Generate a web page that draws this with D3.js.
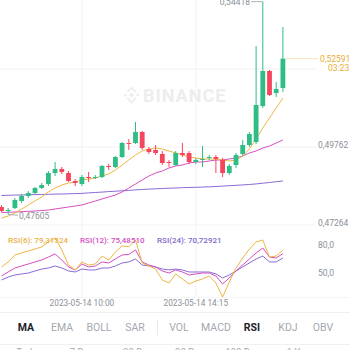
<!DOCTYPE html>
<html>
<head>
<meta charset="utf-8">
<script src="https://cdn.jsdelivr.net/npm/d3@7"></script>
<style>
  html, body { margin: 0; padding: 0; background: #fff; overflow: hidden; }
  svg { display: block; font-family: Roboto, "Noto Sans", sans-serif; }
</style>
</head>
<body>
<svg id="chart" width="350" height="350"></svg>
<script>
// 15-minute candles, 2023-05-14
const times = ["07:00","07:15","07:30","07:45","08:00","08:15","08:30","08:45","09:00","09:15",
  "09:30","09:45","10:00","10:15","10:30","10:45","11:00","11:15","11:30","11:45",
  "12:00","12:15","12:30","12:45","13:00","13:15","13:30","13:45","14:00","14:15",
  "14:30","14:45","15:00","15:15","15:30","15:45","16:00","16:15","16:30","16:45",
  "17:00","17:15","17:30"];

const open = [0.47840,0.47712,0.47808,0.48033,0.48193,0.48289,0.48449,0.48577,0.48929,0.49058,
  0.48929,0.48673,0.48577,0.48801,0.48769,0.48801,0.49154,0.49122,0.49442,0.49890,
  0.49890,0.50242,0.49698,0.49666,0.49538,0.49282,0.49186,0.49570,0.49570,0.49282,
  0.49346,0.49410,0.49442,0.49346,0.48929,0.49186,0.49538,0.49826,0.49922,0.51075,
  0.52196,0.51491,0.51652];
const high = [0.47905,0.47808,0.48129,0.48257,0.48353,0.48481,0.48609,0.48994,0.49282,0.49122,
  0.48994,0.48737,0.48865,0.48961,0.48865,0.49186,0.49218,0.49474,0.49922,0.50018,
  0.50563,0.50274,0.49762,0.49826,0.49634,0.49346,0.49634,0.49890,0.49634,0.49410,
  0.49794,0.49506,0.49506,0.49410,0.49218,0.49570,0.49986,0.50242,0.52997,0.54418,
  0.52228,0.51844,0.53605];
const low = [0.47680,0.47605,0.47776,0.47969,0.48129,0.48257,0.48417,0.48513,0.48833,0.48897,
  0.48641,0.48513,0.48513,0.48641,0.48737,0.48769,0.49026,0.49090,0.49410,0.49666,
  0.49858,0.49666,0.49538,0.49506,0.49186,0.49122,0.49154,0.49442,0.49218,0.49218,
  0.49122,0.49346,0.48929,0.48801,0.48865,0.49090,0.49474,0.49762,0.49858,0.51011,
  0.51395,0.51363,0.51523];
const close = [0.47712,0.47744,0.48065,0.48193,0.48289,0.48449,0.48545,0.48929,0.49058,0.48961,
  0.48673,0.48609,0.48801,0.48769,0.48801,0.49154,0.49122,0.49442,0.49890,0.49858,
  0.50242,0.49730,0.49602,0.49570,0.49250,0.49250,0.49570,0.49506,0.49282,0.49346,
  0.49378,0.49442,0.49378,0.48929,0.49154,0.49506,0.49826,0.50178,0.51107,0.52196,
  0.51427,0.51620,0.52591];

// moving averages
const ma7 = [0.47488,0.47552,0.47648,0.47776,0.47905,0.48033,0.48161,0.48321,0.48449,0.48545,
  0.48609,0.48641,0.48705,0.48737,0.48769,0.48833,0.48897,0.49026,0.49186,0.49346,
  0.49506,0.49634,0.49698,0.49730,0.49698,0.49634,0.49570,0.49506,0.49442,0.49410,
  0.49378,0.49378,0.49378,0.49346,0.49314,0.49346,0.49474,0.49698,0.50018,0.50371,
  0.50691,0.51011,0.51331];
const ma25 = [0.47664,0.47671,0.47680,0.47690,0.47703,0.47712,0.47728,0.47744,0.47776,0.47808,
  0.47840,0.47872,0.47905,0.47969,0.48033,0.48097,0.48161,0.48225,0.48321,0.48449,
  0.48577,0.48705,0.48833,0.48929,0.48994,0.49090,0.49154,0.49186,0.49250,0.49282,
  0.49282,0.49314,0.49346,0.49346,0.49378,0.49410,0.49474,0.49570,0.49634,0.49730,
  0.49794,0.49890,0.49986];
const ma99 = [0.48209,0.48215,0.48222,0.48225,0.48231,0.48238,0.48241,0.48247,0.48254,0.48257,
  0.48263,0.48270,0.48276,0.48292,0.48305,0.48318,0.48334,0.48346,0.48359,0.48372,
  0.48388,0.48401,0.48414,0.48423,0.48433,0.48442,0.48449,0.48459,0.48465,0.48471,
  0.48478,0.48487,0.48497,0.48510,0.48523,0.48535,0.48548,0.48561,0.48580,0.48603,
  0.48625,0.48651,0.48673];

// RSI
const rsi6 = [61.1,66.5,74.0,76.1,78.3,80.4,82.6,88.0,92.3,79.4,
  63.2,57.9,66.5,63.2,64.3,72.9,68.6,77.2,83.7,82.9,
  90.1,65.4,62.2,58.9,47.1,43.9,53.6,48.2,42.8,46.0,
  48.2,51.4,43.9,28.8,44.9,60.0,70.8,80.4,88.0,90.1,
  71.8,72.9,79.31524];
const rsi12 = [51.4,55.7,60.0,62.2,64.3,66.5,68.6,71.8,75.1,68.6,
  61.1,57.9,64.3,61.1,62.2,66.5,65.4,69.7,74.0,74.6,
  79.4,66.5,63.2,61.1,56.8,54.6,57.9,55.7,52.5,53.6,
  54.6,54.6,51.4,42.8,49.3,56.8,63.2,69.7,76.1,81.5,
  71.8,70.8,75.48510];
const rsi24 = [47.1,50.3,52.5,53.6,54.6,56.8,58.9,60.0,62.2,60.0,
  56.8,55.7,58.9,57.9,57.9,60.0,60.0,62.2,65.4,66.5,
  69.7,63.2,62.2,61.1,58.9,57.9,58.9,57.9,55.7,55.7,
  55.7,55.7,53.6,49.3,52.5,56.8,61.1,65.4,69.7,72.9,
  66.5,66.5,70.72921];

const priceTicks = [0.47264, 0.49762, 0.52260];
const rsiTicks = [50, 80];
const timeTicks = ["10:00", "14:15"];
const dateLabel = "2023-05-14";
const highMark = 0.54418, lowMark = 0.47605;
const lastPrice = 0.52591, countdown = "03:23";
const indicatorTabs = ["MA","EMA","BOLL","SAR","VOL","MACD","RSI","KDJ","OBV"];
const activeTabs = ["MA","RSI"];
const rangeTabs = ["Today","7 Days","30 Days","90 Days","180 Days","1 Year"];

const C = {
  up: "#2ebd85", down: "#f6465d",
  ma7: "#efb743", ma25: "#d64fc2", ma99: "#8a6bd6",
  grid: "#f1f2f4", axis: "#8c9098", text: "#1e2329", tab: "#a4a9b1",
  price: "#e9ac33"
};

const fmt = d3.formatLocale({decimal: ",", thousands: ".", grouping: [3], currency: ["", ""]});
const f5 = fmt.format(".5f"), f1 = fmt.format(".1f");

const svg = d3.select("#chart");
const x = d3.scalePoint().domain(times).range([1.5, 282.9]);
const y = d3.scaleLinear().domain([0.47264, 0.49762]).range([225, 147]);
const yr = d3.scaleLinear().domain([50, 80]).range([277.3, 249.4]);

// grid
const grid = svg.append("g");
grid.selectAll("line.h").data(priceTicks).join("line")
  .attr("x1", 0).attr("x2", 316).attr("y1", d => y(d)).attr("y2", d => y(d))
  .attr("stroke", C.grid).attr("stroke-width", 1);
grid.selectAll("line.v").data(timeTicks).join("line")
  .attr("x1", d => x(d)).attr("x2", d => x(d)).attr("y1", 0).attr("y2", 297)
  .attr("stroke", C.grid).attr("stroke-width", 1);
grid.append("line").attr("x1", 0).attr("x2", 350).attr("y1", 297.5).attr("y2", 297.5)
  .attr("stroke", "#f5f5f6");
grid.append("line").attr("x1", 0).attr("x2", 350).attr("y1", 312.5).attr("y2", 312.5)
  .attr("stroke", "#eff0f2");
grid.append("line").attr("x1", 0).attr("x2", 350).attr("y1", 344.5).attr("y2", 344.5)
  .attr("stroke", "#eff0f2");

// watermark
const wm = svg.append("g").attr("fill", "#ededed");
const dia = (cx, cy, r) => `M${cx},${cy - r}L${cx + r},${cy}L${cx},${cy + r}L${cx - r},${cy}Z`;
wm.append("path").attr("d", dia(131.5, 95, 2.6));
wm.append("path").attr("d", dia(125.3, 95, 1.7));
wm.append("path").attr("d", dia(137.7, 95, 1.7));
wm.append("path").attr("d", "M131.5,86.5L136.5,91.5L135.2,92.8L131.5,89.1L127.8,92.8L126.5,91.5Z");
wm.append("path").attr("d", "M131.5,103.5L136.5,98.5L135.2,97.2L131.5,100.9L127.8,97.2L126.5,98.5Z");
wm.append("text").attr("x", 143).attr("y", 101.5).attr("font-size", 18).attr("font-weight", 700)
  .attr("letter-spacing", 1).text("BINANCE");

// price axis labels (the one under the last-price tag is left out)
svg.append("g").selectAll("text")
  .data(priceTicks.filter(d => Math.abs(y(d) - y(lastPrice)) > 14)).join("text")
  .attr("x", 318).attr("y", d => y(d) + 0.5).attr("font-size", 8.5).attr("fill", C.axis)
  .text(d => f5(d));

// moving averages
const line = arr => d3.line().x((d, i) => x(times[i])).y(d => y(d))(arr);
[[ma99, C.ma99], [ma25, C.ma25], [ma7, C.ma7]].forEach(([arr, col]) => {
  svg.append("path").attr("d", line(arr)).attr("fill", "none")
    .attr("stroke", col).attr("stroke-width", 1);
});

// candles
const candles = times.map((t, i) => ({t, o: open[i], h: high[i], l: low[i], c: close[i]}));
const cg = svg.append("g").selectAll("g").data(candles).join("g");
cg.append("line")
  .attr("x1", d => x(d.t)).attr("x2", d => x(d.t))
  .attr("y1", d => y(d.h)).attr("y2", d => y(d.l))
  .attr("stroke", d => d.c >= d.o ? C.up : C.down).attr("stroke-width", 1);
cg.append("rect")
  .attr("x", d => x(d.t) - 2.4).attr("width", 4.8)
  .attr("y", d => y(Math.max(d.o, d.c)))
  .attr("height", d => Math.max(1, Math.abs(y(d.o) - y(d.c))))
  .attr("fill", d => d.c >= d.o ? C.up : C.down);

// high / low markers
const hiIdx = high.indexOf(highMark), loIdx = low.indexOf(lowMark);
svg.append("line").attr("x1", 251).attr("x2", x(times[hiIdx])).attr("y1", y(highMark)).attr("y2", y(highMark))
  .attr("stroke", "#9aa0a8").attr("stroke-width", 0.8);
svg.append("text").attr("x", 250).attr("y", y(highMark) + 3).attr("text-anchor", "end")
  .attr("font-size", 8.5).attr("fill", C.axis).text(f5(highMark));
svg.append("line").attr("x1", x(times[loIdx])).attr("x2", 18).attr("y1", y(lowMark)).attr("y2", y(lowMark) + 1)
  .attr("stroke", "#9aa0a8").attr("stroke-width", 0.8);
svg.append("text").attr("x", 19).attr("y", y(lowMark) + 4.5)
  .attr("font-size", 8.5).attr("fill", C.axis).text(f5(lowMark));

// last price line and label
svg.append("line").attr("x1", x(times[times.length - 1]) + 2.4).attr("x2", 318)
  .attr("y1", y(lastPrice)).attr("y2", y(lastPrice))
  .attr("stroke", "#f4dca6").attr("stroke-width", 0.8);
svg.append("text").attr("x", 320).attr("y", y(lastPrice) + 3).attr("font-size", 8.5)
  .attr("fill", C.price).text(f5(lastPrice));
svg.append("text").attr("x", 328).attr("y", y(lastPrice) + 12.5).attr("font-size", 8.5)
  .attr("fill", C.price).text(countdown);

// RSI pane
const rline = arr => d3.line().x((d, i) => x(times[i])).y(d => yr(d))(arr);
[[rsi24, C.ma99], [rsi12, C.ma25], [rsi6, C.ma7]].forEach(([arr, col]) => {
  svg.append("path").attr("d", rline(arr)).attr("fill", "none")
    .attr("stroke", col).attr("stroke-width", 1);
});
svg.append("g").selectAll("text").data(rsiTicks).join("text")
  .attr("x", 318).attr("y", d => yr(d) - 1).attr("font-size", 8.5).attr("fill", C.axis)
  .text(d => f1(d));

const legend = [
  {label: "RSI(6)", v: rsi6[rsi6.length - 1], col: "#e8b13f", x: 8},
  {label: "RSI(12)", v: rsi12[rsi12.length - 1], col: "#d24fbf", x: 80},
  {label: "RSI(24)", v: rsi24[rsi24.length - 1], col: "#7f67cc", x: 157}
];
svg.append("g").selectAll("text").data(legend).join("text")
  .attr("x", d => d.x).attr("y", 243).attr("font-size", 8).attr("font-weight", 500)
  .attr("fill", d => d.col).text(d => `${d.label}: ${f5(d.v)}`);

// time axis
svg.append("g").selectAll("text").data(timeTicks).join("text")
  .attr("x", d => x(d)).attr("y", 305.5).attr("text-anchor", "middle")
  .attr("font-size", 8.3).attr("fill", C.axis).text(d => `${dateLabel} ${d}`);

// indicator tabs
const tabX = [26, 62, 99, 135, 179, 216, 252, 288, 323];
svg.append("g").selectAll("text").data(indicatorTabs).join("text")
  .attr("x", (d, i) => tabX[i]).attr("y", 331).attr("text-anchor", "middle")
  .attr("font-size", 10.5)
  .attr("font-weight", d => activeTabs.includes(d) ? 700 : 400)
  .attr("fill", d => activeTabs.includes(d) ? C.text : C.tab)
  .text(d => d);
svg.append("line").attr("x1", 157.5).attr("x2", 157.5).attr("y1", 320).attr("y2", 335)
  .attr("stroke", "#e8e9eb");

// range row
const rangeX = [29, 84, 140, 192, 245, 300];
svg.append("g").selectAll("text").data(rangeTabs).join("text")
  .attr("x", (d, i) => rangeX[i]).attr("y", 355).attr("text-anchor", "middle")
  .attr("font-size", 9.5).attr("fill", C.tab).text(d => d);
</script>
</body>
</html>
